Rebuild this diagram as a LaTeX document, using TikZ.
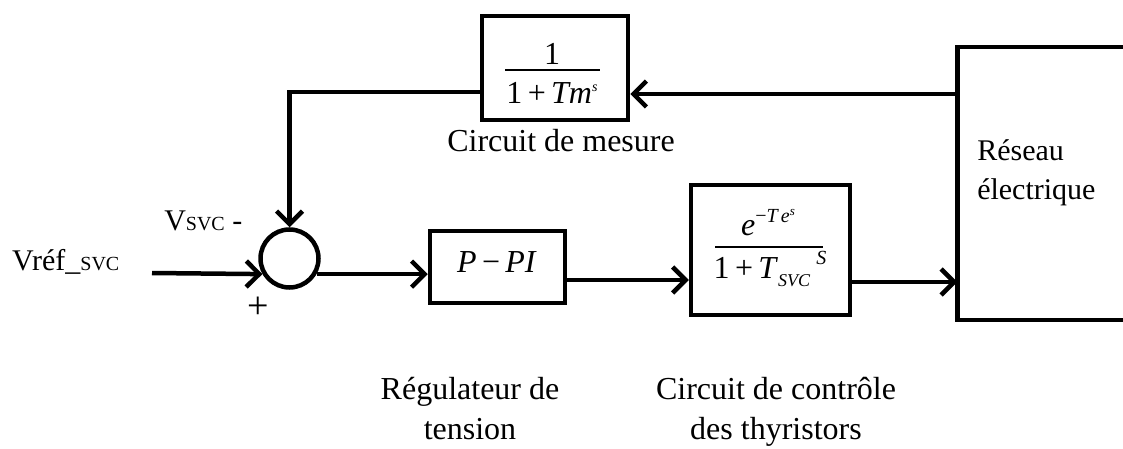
\documentclass[tikz,border=0pt]{standalone}
\usepackage{fontspec}
\setmainfont{Liberation Serif}
\usetikzlibrary{arrows.meta}
\newcommand\myfs[1]{\fontsize{#1}{#1}\selectfont}
\begin{document}
\begin{tikzpicture}[x=1pt,y=-1pt,line width=4.5pt,
  blk/.style={draw,line width=4.5pt,inner sep=0pt},
  arr/.style={-{Straight Barb[length=13pt,width=26pt]}},
  txt/.style={inner sep=0pt,font=\myfs{32}},
  lbl/.style={inner sep=0pt,font=\myfs{30}},
  frl/.style={line width=1.6pt}]
\useasboundingbox (0,0) rectangle (1123,449);

% blocks
\node[blk,minimum width=146pt,minimum height=104pt] (meas) at (555,68) {};
\node[draw,circle,line width=4.5pt,minimum size=58pt,inner sep=0pt] (sum) at (289.5,258.5) {};
\node[blk,minimum width=135pt,minimum height=72pt] (ppi) at (497.5,267) {};
\node[blk,minimum width=159pt,minimum height=130pt] (te) at (770.5,250) {};
\node[inner sep=0pt,minimum width=161.5pt,minimum height=268pt] (res) at (1040.25,183.5) {};
\draw[line width=4.5pt] ([xshift=2pt]res.north east) -- (res.north west) -- (res.south west) -- ([xshift=2pt]res.south east);
\draw[line width=1.2pt,black!60] (res.north east) -- (res.south east);

% connectors
\coordinate (vin) at (152,273);
\draw[arr] (vin) -- (sum.210);
\draw[arr] (sum.-30) -- (sum.-30 -| ppi.west);
\coordinate (p1) at ([yshift=-13pt]ppi.east);
\draw[arr] (p1) -- (p1 -| te.west);
\coordinate (p2) at ([yshift=-32pt]te.east);
\draw[arr] (p2) -- (p2 -| res.west);
\coordinate (f1) at ([yshift=89.5pt]res.west);
\draw[arr] (f1) -- (f1 -| meas.east);
\coordinate (f2) at ([yshift=-24pt]meas.west);
\draw[arr] (f2) -| (sum.north);

% formulas
\node[txt,anchor=base] (mn) at (552,65) {1};
\draw[frl] (505,70) -- (600,70);
\node[txt,anchor=base] (md) at (552,104) {1\,+\,\textit{Tm}\raisebox{12pt}{\myfs{14}\textit{s}}};
\node[txt,anchor=base] (pl) at (497,272) {\textit{P}\,−\,\textit{PI}};
\node[txt,anchor=base] (tn) at (768,235) {\textit{e}\raisebox{13pt}{\myfs{20}−\textit{T\,e}\raisebox{7pt}{\myfs{13}\textit{s}}}};
\draw[frl] (715,247) -- (823,247);
\node[txt,anchor=base] (td) at (770,278) {1\,+\,\textit{T}\raisebox{-8pt}{\myfs{18}\textit{SVC}}\hspace{6pt}\raisebox{14pt}{\myfs{20}\textit{S}}};

% labels
\node[lbl,anchor=base west] (vref) at (10,270) {Vréf\_{\myfs{20}SVC}};
\node[lbl,anchor=base west] (vsvc) at (162,230) {V{\myfs{20}SVC} -};
\node[inner sep=0pt,font=\myfs{38}] (plus) at (258,308) {+};
\node[txt,anchor=base] (cm) at (561,152) {Circuit de mesure};
\node[inner sep=0pt,font=\fontsize{32}{40}\selectfont,align=center] (reg) at (470,409) {Régulateur de\\tension};
\node[inner sep=0pt,font=\fontsize{32}{40}\selectfont,align=center] (cct) at (776,412) {Circuit de contrôle\\des thyristors};
\node[inner sep=0pt,font=\fontsize{30}{39}\selectfont,align=left,anchor=north west] (rese) at (975,137) {Réseau\\électrique};
\end{tikzpicture}
\end{document}
